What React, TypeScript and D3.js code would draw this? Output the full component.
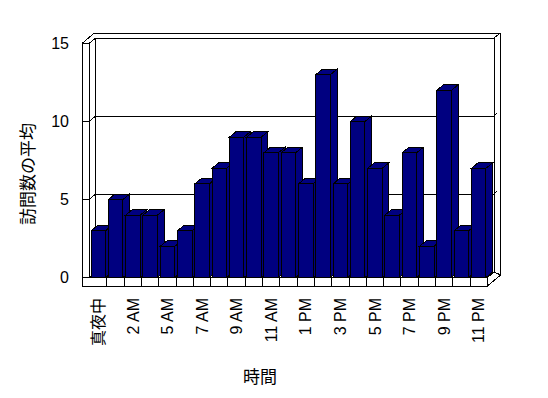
import * as d3 from "d3";

// hours on the category axis (3 AM / 4 AM: only one of them present)
const hours = [
  "真夜中", "1 AM", "2 AM", "3 AM", "5 AM", "6 AM", "7 AM", "8 AM", "9 AM", "10 AM", "11 AM", "正午",
  "1 PM", "2 PM", "3 PM", "4 PM", "5 PM", "6 PM", "7 PM", "8 PM", "9 PM", "10 PM", "11 PM",
];
const avgVisits = [3, 5, 4, 4, 2, 3, 6, 7, 9, 9, 8, 8, 6, 13, 6, 10, 7, 4, 8, 2, 12, 3, 7];
const yTicks = [0, 5, 10, 15];
const yTitle = "訪問数の平均";
const xTitle = "時間";

const W = 548;
const H = 398;
const font = "'Liberation Sans', Arial, 'Noto Sans CJK JP', sans-serif";
const navy = "#000080";

// 3D projection offsets
const DX = 6.7;
const DY = -5.5;
const wallLeft = 82;
const wallThick = 7;
const floorBottom = 286;
const outerTop = 33;
const outerRight = 500.7;

const App = () => {
  const x = d3.scaleBand<string>().domain(hours).range([89.7, 487.3]).paddingInner(0.16).paddingOuter(0.08);
  const y = d3.scaleLinear().domain([0, 15]).range([277.5, 43.5]);
  const step = x.step();
  const yb = (v: number) => y(v) + DY;

  const innerL = wallLeft + wallThick;
  const backL = innerL + DX;
  const floorR = x.range()[1];
  const backR = floorR + DX;

  const line = (x1: number, y1: number, x2: number, y2: number, key: string) => (
    <line key={key} x1={x1} y1={y1} x2={x2} y2={y2} stroke="#000" strokeWidth={1} />
  );

  // category boundaries on floor front
  const bounds = hours.slice(1).map((h) => (x(h) ?? 0) - (step * x.paddingInner()) / 2);

  return (
    <svg
      width={W}
      height={H}
      style={{ position: "absolute", left: 0, top: 0, background: "#fff" }}
      fontFamily={font}
      shapeRendering="crispEdges"
    >
      <rect width={W} height={H} fill="#fff" />
      {/* left wall */}
      {line(wallLeft, y(15), wallLeft, floorBottom, "lw1")}
      {line(innerL, y(15), innerL, y(0), "lw2")}
      {line(backL, yb(15), backL, yb(0), "lw3")}
      {line(wallLeft, y(15), innerL, y(15), "lw4")}
      {/* back wall */}
      {line(backL, yb(15), backR, yb(15), "bw1")}
      {line(94.3, outerTop, outerRight, outerTop, "bw2")}
      {line(backR, yb(15), backR, yb(0), "bw3")}
      {line(outerRight, outerTop, outerRight, 275, "bw4")}
      {line(wallLeft, y(15), 94.3, outerTop, "d1")}
      {line(innerL, y(15), backL, yb(15), "d2")}
      {line(backR, yb(15), outerRight, outerTop, "d3")}
      {/* gridlines */}
      {yTicks.map((v) => (
        <g key={`g${v}`}>
          {line(wallLeft, y(v), innerL, y(v), `ga${v}`)}
          {line(innerL, y(v), backL, yb(v), `gb${v}`)}
          {line(backL, yb(v), backR, yb(v), `gc${v}`)}
          {v > 0 && v < 15 && line(backR, yb(v), backR + 3, yb(v) - 3, `gd${v}`)}
        </g>
      ))}
      {/* floor */}
      <rect x={wallLeft} y={y(0)} width={floorR - wallLeft} height={floorBottom - y(0)} fill="#fff" stroke="#000" />
      <path
        d={`M${floorR},${y(0)} L${backR},${yb(0)} L${outerRight},275 L${floorR},${floorBottom} Z`}
        fill="#fff"
        stroke="#000"
      />
      {bounds.map((bx, i) => line(bx, y(0), bx, floorBottom, `t${i}`))}
      {/* bars */}
      {hours.map((h, i) => {
        const x0 = x(h) ?? 0;
        const x1 = x0 + x.bandwidth();
        const yt = y(avgVisits[i]);
        const y0 = y(0);
        return (
          <g key={h} fill={navy} stroke="#000" strokeWidth={1}>
            <path d={`M${x1},${yt} L${x1 + DX},${yt + DY} L${x1 + DX},${y0 + DY} L${x1},${y0} Z`} />
            <path d={`M${x0},${yt} L${x0 + DX},${yt + DY} L${x1 + DX},${yt + DY} L${x1},${yt} Z`} />
            <rect x={x0} y={yt} width={x1 - x0} height={y0 - yt} />
          </g>
        );
      })}
      {/* y tick labels */}
      {yTicks.map((v) => (
        <text key={`yl${v}`} x={69} y={y(v)} dy="0.35em" textAnchor="end" fontSize={16}>
          {v}
        </text>
      ))}
      {/* x tick labels (every other category) */}
      {hours.map((h, i) =>
        i % 2 === 0 ? (
          <text
            key={`xl${h}`}
            transform={`translate(${(x(h) ?? 0) + x.bandwidth() / 2},298) rotate(-90)`}
            dy="0.35em"
            textAnchor="end"
            fontSize={16}
            fill="#000"
          >
            {h}
          </text>
        ) : null
      )}
      <text transform="translate(28,174) rotate(-90)" dy="0.35em" textAnchor="middle" fontSize={17}>
        {yTitle}
      </text>
      <text x={260} y={377} dy="0.35em" textAnchor="middle" fontSize={17}>
        {xTitle}
      </text>
    </svg>
  );
};

export default App;
